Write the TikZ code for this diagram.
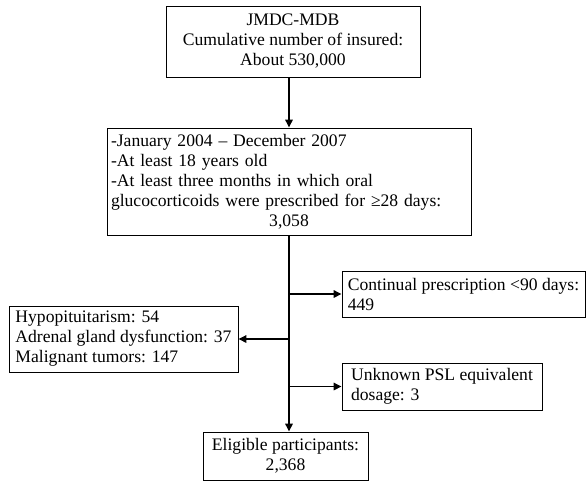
\documentclass[tikz,border=0pt]{standalone}
\usepackage{fontspec}
\setmainfont{Liberation Serif}
\usetikzlibrary{arrows.meta}
\begin{document}
\begin{tikzpicture}[x=1pt,y=1pt,
  box/.style={draw=black, line width=0.9pt, inner sep=3pt, font=\fontsize{17.6}{20}\selectfont},
  conn/.style={line width=1.6pt, -{Triangle[length=8pt,width=7.5pt]}}]
\useasboundingbox (0,0) rectangle (586,-482);
\node[box, align=center, minimum width=254, minimum height=71] (b1) at (293,-41.5)
  {JMDC-MDB\\Cumulative number of insured:\\About 530,000};
\node[box, align=left, inner xsep=4pt, text width=356pt, minimum height=107] (b2) at (289,-181.5)
  {-January 2004 -- December 2007\\
   -At least 18 years old\\
   -At least three months in which oral\\
   glucocorticoids were prescribed for ≥28 days:\\
   \makebox[356pt][c]{3,058}};
\node[box, align=left, minimum width=243, minimum height=46] (cont) at (463.5,-294)
  {Continual prescription <90 days:\\449};
\node[box, align=left, minimum width=229, minimum height=66] (hypo) at (123.5,-339)
  {Hypopituitarism: 54\\Adrenal gland dysfunction: 37\\Malignant tumors: 147};
\node[box, align=left, minimum width=200, minimum height=47] (unk) at (442,-386.5)
  {Unknown PSL equivalent\\dosage: 3};
\node[box, align=center, minimum width=165, minimum height=48] (elig) at (285.5,-456)
  {Eligible participants:\\2,368};
\coordinate (tc) at (b2.south |- cont.west);
\coordinate (th) at (b2.south |- hypo.east);
\coordinate (tu) at (b2.south |- unk.west);
\coordinate (te) at (b2.south |- elig.north);
\draw[conn] (b2.north |- b1.south) -- (b2.north);
\draw[conn] (b2.south) -- (te);
\draw[conn] (tc) -- (cont.west);
\draw[conn] (th) -- (hypo.east);
\draw[conn] (tu) -- (unk.west);
\end{tikzpicture}
\end{document}
